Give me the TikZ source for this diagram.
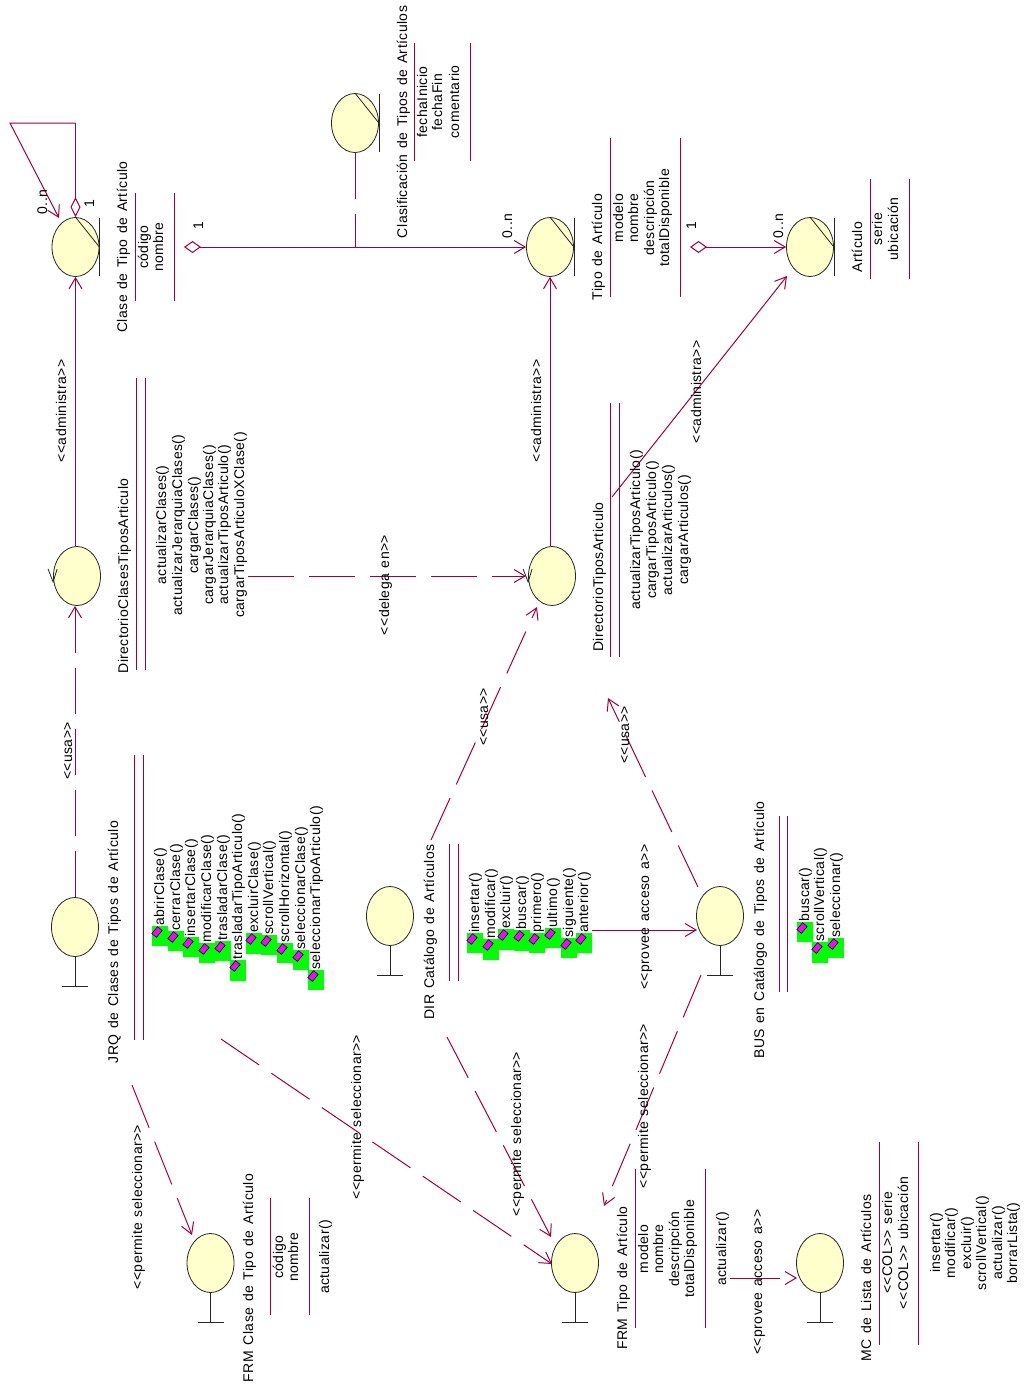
\documentclass[tikz,border=0pt]{standalone}
\usepackage{fontspec}
\setmainfont[LetterSpace=3,WordSpace=1.35]{Liberation Sans}
\usetikzlibrary{arrows.meta,shapes.geometric}
\definecolor{conn}{HTML}{A00040}
\definecolor{shapefill}{HTML}{FFFFCC}
\definecolor{mark}{HTML}{FF00FF}
\definecolor{markbg}{HTML}{00FF00}
\definecolor{markline}{HTML}{200050}
\tikzset{
  x=1pt,y=-1pt,
  txt/.style={rotate=90,inner sep=0pt,font=\fontsize{14}{16}\selectfont,text=black,text height=11pt,text depth=3pt},
  opname/.style={txt,anchor=west},
  ell/.style={shape=ellipse,draw=black!85,line width=0.8pt,fill=shapefill,minimum width=47pt,minimum height=59pt,inner sep=0pt},
  glyph/.style={draw=black!85,line width=0.8pt},
  sep/.style={draw=conn,line width=0.9pt},
  assoc/.style={draw=conn,line width=1pt},
  open/.style={assoc,-{Straight Barb[length=11pt,width=13pt]}},
  dashes/.style={dash pattern=on 46pt off 15pt},
  aggr/.style={assoc,{Diamond[open,length=17pt,width=12pt]}-{Straight Barb[length=11pt,width=13pt]}},
  mk/.style={draw=markline,line width=0.6pt,fill=mark,minimum width=9pt,minimum height=6pt,inner sep=0pt,rotate=50}
}
% name, left, top, text
\newcommand\opm[5][20]{%
  \fill[markbg] (#3,#4) rectangle ++(15.5,#1);
  \node[mk] (#2m) at (#3+5,#4+6) {};
  \node[opname] (#2) at (#3+8,#4) {#5};
}
\newcommand\entitybar[1]{%
  \draw[glyph] (#1.east) ++(0,-29) -- ++(0,58);
  \draw[glyph] (#1.north) -- (#1.east);
}
\newcommand\ctrlmark[1]{%
  \draw[glyph] (#1.west) ++(-5,-7) -- ++(5,13) -- ++(4,-13);
}
\newcommand\boundary[1]{%
  \draw[glyph] (#1.south) -- ++(0,29) coordinate (#1foot);
  \draw[glyph] (#1foot) ++(-13,0) -- ++(26,0);
}
\begin{document}
\begin{tikzpicture}
\useasboundingbox (0,0) rectangle (1025,1385);

% shapes
\node[ell] (E1) at (75.5,247) {};
\node[ell] (E2) at (355,123) {};
\node[ell] (E3) at (550,247) {};
\node[ell] (E4) at (810,247) {};
\node[ell] (C1) at (77,576) {};
\node[ell] (C2) at (552,576) {};
\node[ell] (B1) at (75,927) {};
\node[ell] (B2) at (390,916) {};
\node[ell] (B3) at (720,916) {};
\node[ell] (B4) at (210.5,1263) {};
\node[ell] (B5) at (575,1263) {};
\node[ell] (B6) at (820,1263) {};
\entitybar{E1}\entitybar{E2}\entitybar{E3}\entitybar{E4}
\boundary{B1}\boundary{B2}\boundary{B3}\boundary{B4}\boundary{B5}\boundary{B6}

% free ends
\coordinate (loopA) at (75.5,123);
\coordinate (loopB) at (10,123);
\coordinate (loopT) at (59,218);
\coordinate (dA) at (184,247);
\coordinate (dB) at (690,247);
\coordinate (junction) at (355,247);
\coordinate (adm) at (612,497);
\coordinate (admE) at (787,276);
\coordinate (delS) at (248,576);
\coordinate (delE) at (526,576);
\coordinate (usaS) at (431,840);
\coordinate (usaE) at (537,607);
\coordinate (busS) at (698,887);
\coordinate (busE) at (608,698);
\coordinate (provS) at (592,930);
\coordinate (provE) at (697,930);
\coordinate (frmS) at (701,975);
\coordinate (frmE) at (604,1206);
\coordinate (dirS) at (447,1037);
\coordinate (dirE) at (551,1237);
\coordinate (jrqS) at (221,1039);
\coordinate (jrqE) at (552,1264);
\coordinate (jr2S) at (132,1085);
\coordinate (jr2E) at (192,1235);
\coordinate (mcS) at (730,1278);
\coordinate (mcE) at (797,1278);

% connectors
\draw[assoc,{Diamond[open,length=20pt,width=10pt]}-] (E1.north) -- (loopA);
\draw[open] (loopA) -- (loopB) -- (loopT);
\draw[open] (C1.north -| E1.south) -- (E1.south);
\draw[open,dashes] (B1.north) -- (B1.north |- C1.south);
\draw[open,dashes] (delS) -- (delE);
\draw[open] (C2.north -| E3.south) -- (E3.south);
\draw[aggr] (dA) -- (E3.west);
\draw[assoc,dashes] (E2.south) -- (junction);
\draw[aggr] (dB) -- (E4.west);
\draw[open] (adm) -- (admE);
\draw[open,dashes] (usaS) -- (usaE);
\draw[open,dashes] (busS) -- (busE);
\draw[open] (provS) -- (provE);
\draw[open,dashes] (frmS) -- (frmE);
\draw[open,dashes] (dirS) -- (dirE);
\draw[open,dashes] (jrqS) -- (jrqE);
\draw[open,dashes] (jr2S) -- (jr2E);
\draw[open,dash pattern=on 50pt off 16pt] (mcS) -- (mcE);
\ctrlmark{C1}\ctrlmark{C2}

% separators
\foreach \x/\a/\b in {135/193/301,174/193/301,136/378/670,145/378/670,414/43/161,470/43/161,
  610/138/297,680/138/297,870/179/279,909/179/279,610/403/657,619/403/657,134/755/1040,143/755/1040,
  449/844/981,458/844/981,779/816/992,787/816/992,270/1198/1315,309/1198/1315,635/1169/1328,705/1169/1328,
  879.5/1142/1345,918.5/1142/1345}
  \draw[sep] (\x,\a) -- (\x,\b);

% multiplicities
\node[txt] (m1) at (90,204) {1};
\node[txt] (m2) at (43,202) {0..n};
\node[txt] (m3) at (199,226) {1};
\node[txt] (m4) at (508,226) {0..n};
\node[txt] (m5) at (692,226) {1};
\node[txt] (m6) at (779,226) {0..n};

% stereotype labels
\node[txt] (s1) at (62,411) {<{}<administra>{}>};
\node[txt] (s2) at (537,411) {<{}<administra>{}>};
\node[txt] (s3) at (697,392) {<{}<administra>{}>};
\node[txt] (s4) at (68,751) {<{}<usa>{}>};
\node[txt] (s5) at (484,717) {<{}<usa>{}>};
\node[txt] (s6) at (625,735) {<{}<usa>{}>};
\node[txt] (s7) at (385,585) {<{}<delega en>{}>};
\node[txt] (s8) at (645,917) {<{}<provee acceso a>{}>};
\node[txt] (s9) at (644,1106) {<{}<permite seleccionar>{}>};
\node[txt] (s10) at (517,1134) {<{}<permite seleccionar>{}>};
\node[txt] (s11) at (357,1117) {<{}<permite seleccionar>{}>};
\node[txt] (s12) at (138,1207) {<{}<permite seleccionar>{}>};
\node[txt] (s13) at (758,1282) {<{}<provee acceso a>{}>};

% class Clase de Tipo de Articulo
\node[txt] (t1) at (123,247) {Clase de Tipo de Artículo};
\node[txt] (a11) at (144,247) {código};
\node[txt] (a12) at (159,247) {nombre};
% Clasificacion
\node[txt] (t2) at (403,122) {Clasificación de Tipos de Artículos};
\node[txt] (a21) at (423,102) {fechaInicio};
\node[txt] (a22) at (438,102) {fechaFin};
\node[txt] (a23) at (455,102) {comentario};
% Tipo de Articulo
\node[txt] (t3) at (598,247) {Tipo de Artículo};
\node[txt] (a31) at (619,218) {modelo};
\node[txt] (a32) at (634,218) {nombre};
\node[txt] (a33) at (650,218) {descripción};
\node[txt] (a34) at (665,218) {totalDisponible};
% Articulo
\node[txt] (t4) at (858,247) {Artículo};
\node[txt] (a41) at (878,229) {serie};
\node[txt] (a42) at (894,229) {ubicación};
% DirectorioClasesTiposArticulo
\node[txt] (t5) at (124,576) {DirectorioClasesTiposArticulo};
\node[txt] (o51) at (162,525) {actualizarClases()};
\node[txt] (o52) at (178,525) {actualizarJerarquiaClases()};
\node[txt] (o53) at (194,525) {cargarClases()};
\node[txt] (o54) at (209,525) {cargarJerarquiaClases()};
\node[txt] (o55) at (224,525) {actualizarTiposArticulo()};
\node[txt] (o56) at (240,525) {cargarTiposArticuloXClase()};
% DirectorioTiposArticulo
\node[txt] (t6) at (599,577) {DirectorioTiposArticulo};
\node[txt] (o61) at (636,530) {actualizarTiposArticulo()};
\node[txt] (o62) at (652,530) {cargarTiposArticulo()};
\node[txt] (o63) at (668,530) {actualizarArticulos()};
\node[txt] (o64) at (684,530) {cargarArticulos()};
% JRQ
\node[txt] (t7) at (114,942) {JRQ de Clases de Tipos de Artículo};
\opm{j1}{152}{926}{abrirClase()}
\opm{j2}{168}{931}{cerrarClase()}
\opm{j3}{183}{937}{insertarClase()}
\opm{j4}{199}{943}{modificarClase()}
\opm{j5}{215}{941}{trasladarClase()}
\opm[21]{j6}{230}{960}{trasladarTipoArticulo()}
\opm[21]{j7}{246}{933}{excluirClase()}
\opm{j8}{261}{935}{scrollVertical()}
\opm{j9}{277}{943}{scrollHorizontal()}
\opm{j10}{293}{950}{seleccionarClase()}
\opm{j11}{308}{970}{seleccionarTipoArticulo()}
% DIR
\node[txt] (t8) at (430,932) {DIR Catálogo de Artículos};
\opm{d1}{467}{933}{insertar()}
\opm[21]{d2}{483}{939}{modificar()}
\opm[21]{d3}{498}{929}{excluir()}
\opm[21]{d4}{514}{930}{buscar()}
\opm{d5}{529}{933}{primero()}
\opm{d6}{545}{928}{ultimo()}
\opm{d7}{561}{938}{siguiente()}
\opm{d8}{576}{933}{anterior()}
% BUS
\node[txt] (t9) at (760,930) {BUS en Catálogo de Tipos de Artículo};
\opm{b1}{797}{922}{buscar()}
\opm[21]{b2}{812}{942}{scrollVertical()}
\opm{b3}{828}{938}{seleccionar()}
% FRM Clase
\node[txt] (t10) at (249,1278) {FRM Clase de Tipo de Artículo};
\node[txt] (a101) at (279,1257) {código};
\node[txt] (a102) at (294,1257) {nombre};
\node[txt] (o101) at (325,1257) {actualizar()};
% FRM Tipo
\node[txt] (t11) at (623,1278) {FRM Tipo de Artículo};
\node[txt] (a111) at (644,1249) {modelo};
\node[txt] (a112) at (659,1249) {nombre};
\node[txt] (a113) at (675,1249) {descripción};
\node[txt] (a114) at (690,1249) {totalDisponible};
\node[txt] (o111) at (722,1249) {actualizar()};
% MC
\node[txt] (t12) at (867,1278) {MC de Lista de Artículos};
\node[txt] (a121) at (888,1243) {<{}<COL>{}> serie};
\node[txt] (a122) at (904,1243) {<{}<COL>{}> ubicación};
\node[txt] (o121) at (936,1243) {insertar()};
\node[txt] (o122) at (951,1243) {modificar()};
\node[txt] (o123) at (967,1243) {excluir()};
\node[txt] (o124) at (982,1243) {scrollVertical()};
\node[txt] (o125) at (998,1243) {actualizar()};
\node[txt] (o126) at (1013,1243) {borrarLista()};
\end{tikzpicture}
\end{document}
